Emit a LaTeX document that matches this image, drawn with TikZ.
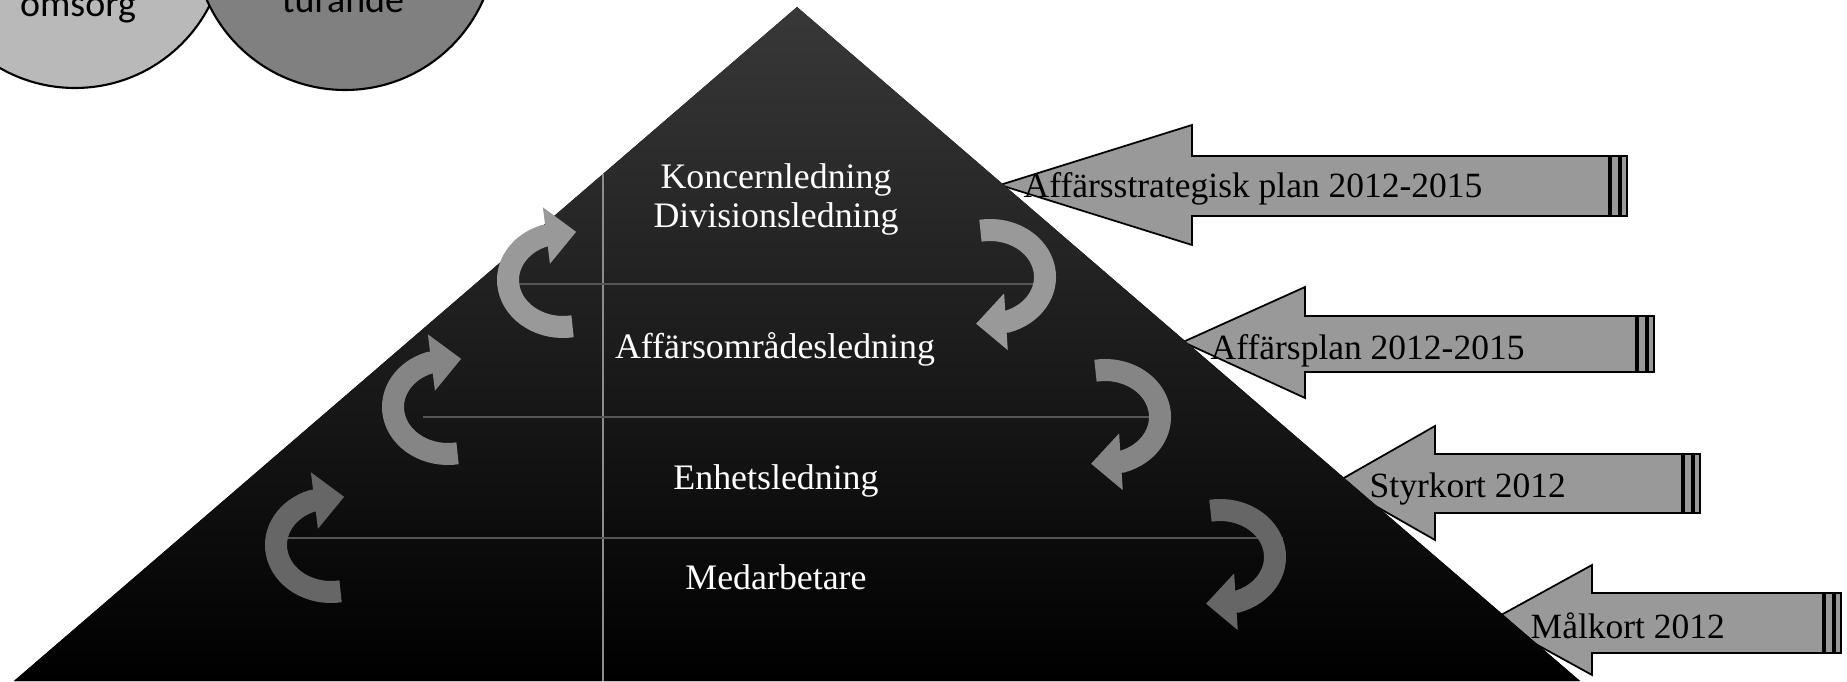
\documentclass[tikz,border=0pt]{standalone}
\usepackage{fontspec}
\setmainfont{Liberation Serif}
\newfontfamily\cirkelfont{Carlito}
\definecolor{pilGra}{RGB}{153,153,153}
\definecolor{ljusCirkel}{RGB}{185,185,185}
\definecolor{morkCirkel}{RGB}{128,128,128}
\definecolor{linjeGra}{RGB}{85,85,85}
\usetikzlibrary{arrows.meta,calc}
\tikzset{
  cirkel/.style={draw=black, line width=0.6pt},
  cirkeltext/.style={anchor=base, font=\cirkelfont\fontsize{10.8}{12}\selectfont},
  pyramid/.style={top color=black!78, bottom color=black},
  niva/.style={text=white, align=center, font=\fontsize{10.2}{11.1}\selectfont},
  skiljelinje/.style={draw=linjeGra, line width=0.4pt},
  ringpil/.style={line width=2.2mm, -{Triangle[length=3mm,width=5.5mm]}},
  planpil/.style={draw=black, line width=0.5pt, fill=pilGra},
  piltext/.style={anchor=base west, inner sep=0pt, font=\fontsize{10.1}{12}\selectfont},
}
\begin{document}
\begin{tikzpicture}[x=0.1mm, y=0.1mm]
  \useasboundingbox (0,0) rectangle (1847,681);
  \clip (0,0) rectangle (1847,681);
  % cirklar uppe till vänster
  \draw[cirkel, fill=ljusCirkel] (75,744) circle[radius=151];
  \draw[cirkel, fill=morkCirkel] (345,742) circle[radius=151];
  \node[cirkeltext] (omsorg) at (78,664) {omsorg};
  \node[cirkeltext] (turande) at (343,668) {turande};
  % planpilar
  \foreach \tx/\ty/\hx/\ht/\hb/\st/\sb/\ex in {
      1000/496/1192/556/436/525/465/1609,
      1183/339/1305/394/283/365/309/1636,
      1335/198/1435/255/141/227/168/1682,
      1492/61/1592/116/6/88/28/1823} {
    \draw[planpil] (\tx,\ty) -- (\hx,\ht) -- (\hx,\st) -- (\ex,\st)
      -- (\ex,\sb) -- (\hx,\sb) -- (\hx,\hb) -- cycle;
    \draw[planpil] (\ex+2,\sb) rectangle (\ex+10,\st);
    \draw[planpil] (\ex+12,\sb) rectangle (\ex+18,\st);
  }
  % pyramiden
  \coordinate (topp) at (797,674);
  \fill[pyramid] (14,0) -- (topp) -- (1580,0) -- cycle;
  \draw[skiljelinje, draw=black!45] (603,507) -- (603,0);
  \draw[skiljelinje] (517,397) -- (1050,397);
  \draw[skiljelinje] (423,264) -- (1167,264);
  \draw[skiljelinje] (287,143) -- (1283,143);
  % ringpilar
  \foreach \n/\lx/\ly/\rx/\ry/\ton in {1/563/401/990/404/40, 2/448/274/1105/264/48, 3/331/136/1220/124/60} {
    \coordinate (ringV\n) at (\lx,\ly);
    \coordinate (ringH\n) at (\rx,\ry);
    \draw[ringpil, black!\ton] ($(ringV\n)+(280:55 and 47)$)
      arc[start angle=280, end angle=110, x radius=55, y radius=47] -- ++(32,4);
    \draw[ringpil, black!\ton] ($(ringH\n)+(100:55 and 47)$)
      arc[start angle=100, end angle=-72, x radius=55, y radius=47] -- ++(-31,-2);
  }
  % nivåer
  \node[niva] (koncern) at (776,482) {Koncernledning\\Divisionsledning};
  \node[niva] (affomr) at (775,332) {Affärsområdesledning};
  \node[niva] (enhet) at (776,200) {Enhetsledning};
  \node[niva] (medarb) at (776,104) {Medarbetare};
  % piltexter
  \node[piltext] (plan1) at (1023,483) {Affärsstrategisk plan 2012-2015};
  \node[piltext] (plan2) at (1210,321) {Affärsplan 2012-2015};
  \node[piltext] (plan3) at (1369,183) {Styrkort 2012};
  \node[piltext] (plan4) at (1530,43) {Målkort 2012};
\end{tikzpicture}
\end{document}
